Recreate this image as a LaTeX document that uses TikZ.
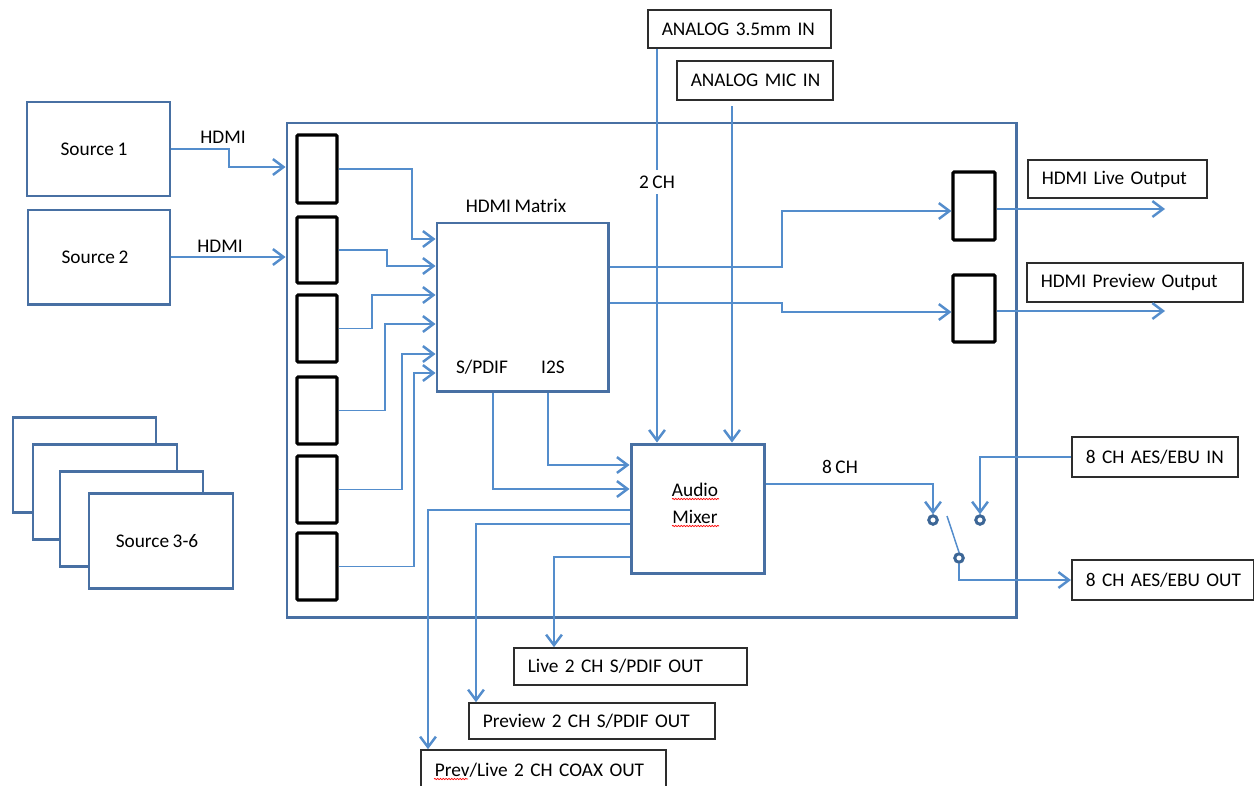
\documentclass[tikz,border=0pt]{standalone}
\usepackage{fontspec}
\setmainfont[WordSpace=0.8]{Carlito}
\usetikzlibrary{arrows.meta,fit,decorations.pathmorphing}
\definecolor{boxblue}{RGB}{72,112,163}
\definecolor{swblue}{RGB}{60,102,150}
\definecolor{lineblue}{RGB}{84,141,204}
\definecolor{tbcol}{RGB}{45,45,45}
\begin{document}
\begin{tikzpicture}[x=0.02cm,y=-0.02cm, font=\fontsize{11}{13}\selectfont,
 bbox/.style={draw=boxblue, line width=1.7pt, fill=white, inner sep=0pt},
 port/.style={draw=black, line width=1.8pt, inner sep=0pt, rounded corners=0.6pt},
 tbox/.style={draw=tbcol, line width=0.9pt, inner xsep=0.28cm, inner ysep=0pt, align=left, anchor=west},
 conn/.style={draw=lineblue, line width=0.85pt},
 arr/.style={conn, -{Straight Barb[length=6pt,width=9pt,line width=1.4pt]}},
 sw/.style={circle, draw=swblue, line width=1.7pt, minimum size=0.17cm, inner sep=0pt},
 lbl/.style={inner sep=1pt},
 squig/.style={draw=red, line width=0.4pt, decorate, decoration={snake, amplitude=0.35pt, segment length=1.6pt}}
]
\useasboundingbox (0,0) rectangle (1254,785);
\clip (0,0) rectangle (1254,785);

% main unit
\node[bbox, fill=none, fit={(287,123)(1016,617)}] (main) {};

% sources
\node[bbox, fit={(27,102)(170,196)}] (s1) {};
\node[lbl] (s1t) at (94,149) {Source 1};
\node[bbox, fit={(28,210)(170,304)}] (s2) {};
\node[lbl] (s2t) at (95,257) {Source 2};
\node[bbox, fit={(13,417)(156,512)}] (s3a) {};
\node[bbox, fit={(33,444)(177,539)}] (s3b) {};
\node[bbox, fit={(60,471)(203,566)}] (s3c) {};
\node[bbox, fit={(89,493)(233,588)}] (s3d) {};
\node[lbl] (s3t) at (157,541) {Source 3-6};

% input ports
\foreach \i/\a/\b in {1/135/203, 2/217/283, 3/295/362, 4/377/444, 5/456/523, 6/533/600}
  \node[port, fit={(297,\a)(337,\b)}] (p\i) {};

% output ports
\node[port, fit={(953,172)(995,240)}] (lo) {};
\node[port, fit={(953,275)(995,342)}] (po) {};

% matrix
\node[bbox, fit={(437,223)(608,391)}] (mx) {};
\node[lbl] (mxl) at (516,206) {HDMI Matrix};
\node[lbl] (spdif) at (482,367) {S/PDIF};
\node[lbl] (i2s) at (553,367) {I2S};

% mixer
\node[bbox, fit={(631,444)(764,573)}] (mix) {};
\node[lbl] (au) at (695,490) {Audio};
\node[lbl] (mi) at (695,517) {Mixer};
\draw[squig] (672,499) -- (719,499);
\draw[squig] (672,526) -- (719,526);

% text boxes
\node[tbox, text width=3.10cm, minimum height=0.76cm] (a35) at (647,29) {\mbox{ANALOG 3.5mm IN}};
\node[tbox, text width=2.56cm, minimum height=0.78cm] (mic) at (676,80.5) {\mbox{ANALOG MIC IN}};
\node[tbox, text width=3.02cm, minimum height=0.76cm] (hlo) at (1027,179) {\mbox{HDMI Live Output}};
\node[tbox, text width=3.76cm, minimum height=0.78cm] (hpo) at (1026,282.5) {\mbox{HDMI Preview Output}};
\node[tbox, text width=2.76cm, minimum height=0.8cm] (aesin) at (1071,457) {\mbox{8 CH AES/EBU IN}};
\node[tbox, text width=3.08cm, minimum height=0.8cm] (aesout) at (1071,580) {\mbox{8 CH AES/EBU OUT}};
\node[tbox, text width=4.10cm, minimum height=0.74cm] (lsp) at (513,666.5) {\mbox{Live 2 CH S/PDIF OUT}};
\node[tbox, text width=4.36cm, minimum height=0.72cm] (psp) at (468,721) {\mbox{Preview 2 CH S/PDIF OUT}};
\node[tbox, text width=4.34cm, minimum height=0.8cm] (coax) at (420,770) {\mbox{Prev/Live 2 CH COAX OUT}};
\draw[squig] (434,779) -- (468,779);

% HDMI labels
\node[lbl] (h1) at (223,137) {HDMI};
\node[lbl] (h2) at (220,246) {HDMI};

% source connectors
\draw[arr] (s1.east) -- (229,149) |- (main.west |- 0,167);
\draw[arr] (s2.east) -- (s2.east -| main.west);

% ports to matrix
\draw[arr] (p1.east) -| (412,239) -- (mx.west |- 0,239);
\draw[arr] (p2.east) -| (387,266) -- (mx.west |- 0,266);
\draw[arr] (p3.east) -| (372,295) -- (mx.west |- 0,295);
\draw[arr] (p4.east) -| (385,324) -- (mx.west |- 0,324);
\draw[arr] (p5.east) -| (402,354) -- (mx.west |- 0,354);
\draw[arr] (p6.east) -| (414,373) -- (mx.west |- 0,373);

% matrix to output ports
\draw[arr] (mx.east |- 0,267) -| (782,211) -- (lo.west |- 0,211);
\draw[arr] (mx.east |- 0,303) -| (782,312) -- (po.west |- 0,312);
\coordinate (loend) at (1165,209);
\coordinate (poend) at (1165,311);
\draw[arr] (lo.east |- loend) -- (loend);
\draw[arr] (po.east |- poend) -- (poend);

% matrix to mixer
\draw[arr] (mx.south -| 493,0) |- (mix.west |- 0,489);
\draw[arr] (mx.south -| 548,0) |- (mix.west |- 0,465);

% analog inputs
\draw[arr] (a35.south -| 657,0) -- (mix.north -| 657,0);
\node[lbl, fill=white, inner ysep=3pt] (ch2) at (657,182) {2 CH};
\draw[arr, shorten <=3pt] (mic.south -| 732,0) -- (mix.north -| 732,0);

% switch
\node[sw] (c1) at (933,520) {};
\node[sw] (c2) at (980,520) {};
\node[sw] (c3) at (959,558) {};
\draw[arr] (mix.east |- 0,484) -| (c1.north);
\node[lbl] (ch8) at (840,467) {8 CH};
\draw[arr] (aesin.west) -| (c2.north);
\coordinate (lever) at (947,516);
\draw[conn] (lever) -- (c3.north);
\draw[arr] (c3.south) |- (aesout.west);

% mixer to S/PDIF and coax outputs
\draw[arr] (mix.west |- 0,510) -| (coax.north -| 428,0);
\draw[arr] (mix.west |- 0,524) -| (psp.north -| 476,0);
\draw[arr] (mix.west |- 0,557) -| (lsp.north -| 554,0);
\end{tikzpicture}
\end{document}
